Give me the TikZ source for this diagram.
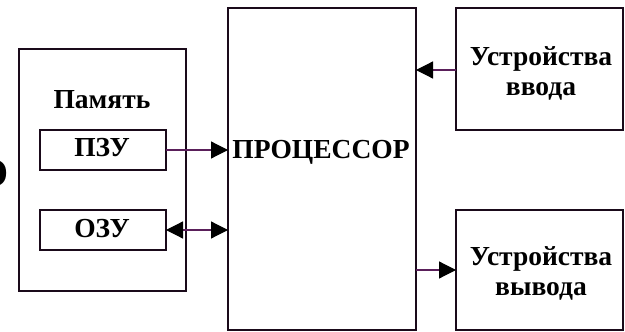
\documentclass[tikz,border=0pt]{standalone}
\usepackage{fontspec}
\setmainfont{Liberation Serif}
\usetikzlibrary{arrows.meta}
\definecolor{wire}{HTML}{5A1F5A}
\definecolor{edge}{HTML}{1A0A1A}
\begin{document}
\begin{tikzpicture}[x=1pt,y=-1pt,
  box/.style={draw=edge,line width=2.2pt,fill=white},
  lbl/.style={font=\bfseries\fontsize{27.5}{29}\selectfont,text=black,inner sep=0pt,anchor=base},
  wirearr/.style={draw=wire,line width=1.2pt,-{Triangle[length=17pt,width=17pt,fill=black,color=black]}},
  wirebi/.style={draw=wire,line width=1.2pt,{Triangle[length=17pt,width=17pt,fill=black,color=black]}-{Triangle[length=17pt,width=17pt,fill=black,color=black]}}]
\useasboundingbox (0,0) rectangle (625,332);
\fill[white] (0,0) rectangle (625,332);
% partial glyph at left edge
\node[lbl,font=\bfseries\fontsize{40}{44}\selectfont,anchor=base east] (frag) at (9,186) {О};
% memory block
\draw[box] (19,49) rectangle (186,291);
\node[lbl] (mem) at (102,108) {Память};
\draw[box] (40,130) rectangle (166,170);
\node[lbl] (pzu) at (102,156) {ПЗУ};
\coordinate (pzuR) at (166,150);
\draw[box] (40,210) rectangle (166,250);
\node[lbl] (ozu) at (102,237) {ОЗУ};
\coordinate (ozuR) at (166,230);
% processor
\draw[box] (228,8) rectangle (416,330);
\node[lbl] (cpu) at (321,158) {ПРОЦЕССОР};
% input device
\draw[box] (456,8) rectangle (623,130);
\node[lbl] (in1) at (541,65) {Устройства};
\node[lbl] (in2) at (541,95) {ввода};
% output device
\draw[box] (456,210) rectangle (623,330);
\node[lbl] (out1) at (541,265) {Устройства};
\node[lbl] (out2) at (541,295) {вывода};
% connectors
\coordinate (cpuA) at (228,150);
\coordinate (cpuB) at (228,230);
\coordinate (cpuC) at (416,70);
\coordinate (cpuD) at (416,270);
\coordinate (inL) at (456,70);
\coordinate (outL) at (456,270);
\draw[wirearr] (pzuR) -- (cpuA);
\draw[wirebi] (ozuR) -- (cpuB);
\draw[wirearr] (inL) -- (cpuC);
\draw[wirearr] (cpuD) -- (outL);
\end{tikzpicture}
\end{document}
